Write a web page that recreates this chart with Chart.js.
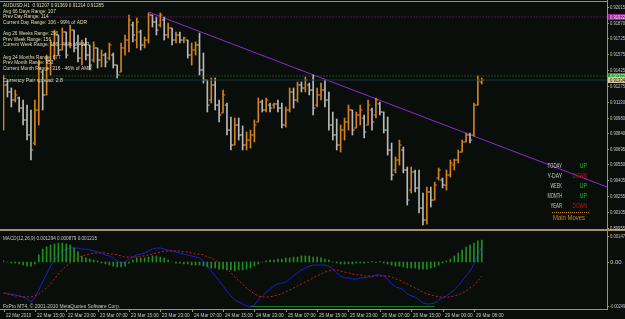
<!DOCTYPE html>
<html>
<head>
<meta charset="utf-8">
<script src="https://cdn.jsdelivr.net/npm/chart.js@4.4.1/dist/chart.umd.min.js"></script>
<style>
html, body { margin: 0; padding: 0; background: #0a0e0a; }
#wrap { position: relative; width: 625px; height: 319px; background: #0a0e0a; overflow: hidden; }
canvas { position: absolute; left: 0; }
#priceCv { top: 0; }
#macdCv { top: 231px; }
</style>
</head>
<body>
<div id="wrap">
  <canvas id="priceCv" width="625" height="231"></canvas>
  <canvas id="macdCv" width="625" height="88"></canvas>
</div>
<script>
// AUDUSD H1 bars, one entry per hour
const highs = [0.91381,0.91334,0.91260,0.91241,0.91176,0.91148,0.91101,0.91055,0.91148,0.91521,
  0.91428,0.91567,0.91707,0.91800,0.91754,0.91819,0.91782,0.91847,0.91800,0.91754,
  0.91707,0.91726,0.91661,0.91689,0.91633,0.91614,0.91586,0.91679,0.91586,0.91474,
  0.91679,0.91754,0.91940,0.91875,0.91912,0.91800,0.91735,0.91959,0.91940,0.91922,
  0.91959,0.91922,0.91866,0.91819,0.91782,0.91782,0.91735,0.91707,0.91679,0.91689,
  0.91772,0.91586,0.91334,0.91353,0.91353,0.91148,0.91241,0.91120,0.90990,0.90980,
  0.90980,0.90906,0.90850,0.90868,0.90962,0.91167,0.91148,0.91167,0.91120,0.91120,
  0.91148,0.91120,0.91083,0.91260,0.91260,0.91316,0.91316,0.91362,0.91306,0.91381,
  0.91260,0.91306,0.91334,0.91223,0.91036,0.90971,0.90915,0.90980,0.91101,0.91055,
  0.91036,0.91101,0.91008,0.91148,0.91073,0.91167,0.91129,0.91036,0.90990,0.90747,
  0.90617,0.90775,0.90710,0.90524,0.90524,0.90496,0.90496,0.90281,0.90337,0.90337,
  0.90384,0.90514,0.90421,0.90496,0.90589,0.90598,0.90682,0.90775,0.90840,0.90840,
  0.91120,0.91372,0.91353];
const lows = [0.90868,0.91176,0.91083,0.91129,0.91036,0.90915,0.90775,0.90589,0.90729,0.90915,
  0.91055,0.91195,0.91381,0.91521,0.91567,0.91614,0.91539,0.91633,0.91595,0.91502,
  0.91474,0.91521,0.91428,0.91502,0.91446,0.91456,0.91456,0.91521,0.91446,0.91353,
  0.91409,0.91567,0.91595,0.91689,0.91633,0.91614,0.91633,0.91679,0.91828,0.91754,
  0.91828,0.91707,0.91726,0.91661,0.91679,0.91679,0.91679,0.91539,0.91474,0.91567,
  0.91381,0.91306,0.91036,0.91120,0.91055,0.90943,0.91027,0.90822,0.90682,0.90729,
  0.90775,0.90682,0.90682,0.90701,0.90757,0.90943,0.91036,0.91036,0.91036,0.91073,
  0.91036,0.90887,0.90896,0.91036,0.91073,0.91129,0.91223,0.91223,0.91195,0.91008,
  0.91083,0.91148,0.91083,0.90868,0.90775,0.90682,0.90663,0.90775,0.90868,0.90822,
  0.90887,0.90915,0.90794,0.90915,0.90868,0.90980,0.91008,0.90840,0.90635,0.90402,
  0.90468,0.90542,0.90468,0.90169,0.90281,0.90291,0.90095,0.89983,0.89992,0.90151,
  0.90216,0.90402,0.90328,0.90309,0.90430,0.90496,0.90561,0.90663,0.90757,0.90747,
  0.90812,0.91101,0.91297];
const opens = [0.91055,0.91288,0.91223,0.91148,0.91167,0.91073,0.90962,0.90822,0.90747,0.91055,
  0.91409,0.91195,0.91521,0.91661,0.91754,0.91614,0.91782,0.91661,0.91800,0.91633,
  0.91539,0.91661,0.91567,0.91521,0.91633,0.91521,0.91567,0.91539,0.91567,0.91474,
  0.91409,0.91633,0.91707,0.91847,0.91707,0.91782,0.91661,0.91707,0.91940,0.91875,
  0.91847,0.91894,0.91754,0.91819,0.91707,0.91754,0.91707,0.91707,0.91567,0.91614,
  0.91661,0.91428,0.91334,0.91148,0.91288,0.91101,0.91027,0.91101,0.90868,0.90729,
  0.90915,0.90822,0.90729,0.90775,0.90822,0.90943,0.91129,0.91055,0.91101,0.91101,
  0.91111,0.91073,0.90915,0.91055,0.91223,0.91148,0.91288,0.91260,0.91288,0.91241,
  0.91101,0.91195,0.91241,0.91148,0.90915,0.90822,0.90729,0.90868,0.90943,0.91055,
  0.90887,0.91008,0.90980,0.90915,0.91055,0.91008,0.91111,0.91036,0.90868,0.90682,
  0.90496,0.90589,0.90682,0.90496,0.90309,0.90477,0.90328,0.90141,0.90030,0.90291,
  0.90216,0.90421,0.90402,0.90356,0.90449,0.90542,0.90589,0.90663,0.90757,0.90822,
  0.90822,0.91101,0.91316];
const closes = [0.91288,0.91223,0.91148,0.91195,0.91073,0.90962,0.90822,0.90682,0.91055,0.91446,
  0.91195,0.91521,0.91661,0.91754,0.91614,0.91782,0.91567,0.91800,0.91633,0.91539,
  0.91661,0.91567,0.91474,0.91633,0.91521,0.91567,0.91502,0.91661,0.91474,0.91381,
  0.91633,0.91707,0.91894,0.91754,0.91875,0.91661,0.91707,0.91940,0.91875,0.91800,
  0.91940,0.91754,0.91819,0.91707,0.91754,0.91707,0.91726,0.91567,0.91614,0.91661,
  0.91428,0.91334,0.91101,0.91288,0.91101,0.91008,0.91195,0.90868,0.90729,0.90915,
  0.90822,0.90729,0.90775,0.90822,0.90915,0.91129,0.91055,0.91148,0.91073,0.91111,
  0.91073,0.90915,0.91055,0.91223,0.91148,0.91288,0.91260,0.91334,0.91241,0.91073,
  0.91195,0.91241,0.91148,0.90915,0.90822,0.90729,0.90868,0.90943,0.91055,0.90868,
  0.91008,0.91055,0.90850,0.91101,0.90943,0.91148,0.91036,0.90868,0.90682,0.90449,
  0.90589,0.90729,0.90496,0.90216,0.90477,0.90328,0.90141,0.90030,0.90291,0.90216,
  0.90356,0.90496,0.90356,0.90449,0.90561,0.90589,0.90663,0.90757,0.90822,0.90775,
  0.91101,0.91334,0.91334];

// MACD(12,26,9) panel
const macdMain = [-0.00175,-0.00181,-0.00181,-0.00186,-0.00192,-0.00198,-0.00209,-0.00226,-0.00203,-0.00158,
  -0.00113,-0.00068,-0.00023,0.00011,0.00040,0.00062,0.00073,0.00079,0.00079,0.00079,
  0.00073,0.00073,0.00068,0.00062,0.00057,0.00051,0.00040,0.00034,0.00023,0.00006,
  -0.00006,0.00000,0.00017,0.00028,0.00040,0.00045,0.00051,0.00062,0.00073,0.00079,
  0.00079,0.00073,0.00068,0.00062,0.00057,0.00051,0.00045,0.00040,0.00034,0.00028,
  0.00023,0.00006,-0.00023,-0.00051,-0.00079,-0.00107,-0.00136,-0.00164,-0.00192,-0.00215,
  -0.00226,-0.00237,-0.00249,-0.00254,-0.00243,-0.00215,-0.00192,-0.00170,-0.00153,-0.00136,
  -0.00124,-0.00119,-0.00113,-0.00096,-0.00079,-0.00062,-0.00045,-0.00034,-0.00023,-0.00017,
  -0.00017,-0.00017,-0.00017,-0.00023,-0.00040,-0.00062,-0.00079,-0.00090,-0.00090,-0.00096,
  -0.00096,-0.00090,-0.00090,-0.00085,-0.00085,-0.00073,-0.00073,-0.00079,-0.00096,-0.00124,
  -0.00141,-0.00147,-0.00158,-0.00181,-0.00192,-0.00198,-0.00215,-0.00232,-0.00237,-0.00237,
  -0.00232,-0.00215,-0.00203,-0.00192,-0.00175,-0.00158,-0.00136,-0.00107,-0.00079,-0.00051,
  -0.00011,0.00040,0.00085];
const macdSignal = [-0.00175,-0.00181,-0.00186,-0.00192,-0.00192,-0.00198,-0.00198,-0.00198,-0.00192,-0.00181,
  -0.00164,-0.00147,-0.00124,-0.00096,-0.00068,-0.00045,-0.00023,-0.00006,0.00011,0.00023,
  0.00034,0.00040,0.00045,0.00051,0.00051,0.00051,0.00051,0.00045,0.00045,0.00040,
  0.00034,0.00028,0.00028,0.00028,0.00028,0.00034,0.00034,0.00040,0.00045,0.00051,
  0.00057,0.00062,0.00062,0.00062,0.00062,0.00062,0.00057,0.00057,0.00051,0.00045,
  0.00045,0.00040,0.00028,0.00023,0.00011,-0.00006,-0.00023,-0.00040,-0.00062,-0.00085,
  -0.00107,-0.00124,-0.00147,-0.00164,-0.00181,-0.00192,-0.00198,-0.00198,-0.00198,-0.00192,
  -0.00186,-0.00181,-0.00170,-0.00158,-0.00147,-0.00136,-0.00124,-0.00113,-0.00102,-0.00090,
  -0.00079,-0.00068,-0.00057,-0.00051,-0.00045,-0.00045,-0.00051,-0.00057,-0.00062,-0.00068,
  -0.00073,-0.00073,-0.00079,-0.00079,-0.00079,-0.00079,-0.00079,-0.00079,-0.00079,-0.00085,
  -0.00096,-0.00102,-0.00113,-0.00124,-0.00136,-0.00147,-0.00158,-0.00170,-0.00181,-0.00186,
  -0.00192,-0.00198,-0.00198,-0.00198,-0.00198,-0.00192,-0.00186,-0.00175,-0.00164,-0.00147,
  -0.00130,-0.00107,-0.00079];
const macdHist = [0.00006,0.00000,-0.00006,-0.00006,-0.00011,-0.00017,-0.00023,-0.00023,-0.00011,0.00040,
  0.00073,0.00085,0.00096,0.00102,0.00107,0.00107,0.00102,0.00096,0.00079,0.00057,
  0.00034,0.00023,0.00017,0.00011,0.00006,-0.00006,-0.00011,-0.00017,-0.00023,-0.00028,
  -0.00028,-0.00023,-0.00006,0.00011,0.00023,0.00023,0.00023,0.00028,0.00034,0.00034,
  0.00028,0.00023,0.00011,0.00000,-0.00006,-0.00006,-0.00011,-0.00011,-0.00017,-0.00017,
  -0.00017,-0.00023,-0.00028,-0.00034,-0.00034,-0.00040,-0.00040,-0.00045,-0.00045,-0.00051,
  -0.00045,-0.00045,-0.00040,-0.00034,-0.00023,-0.00011,0.00000,0.00006,0.00011,0.00011,
  0.00017,0.00017,0.00023,0.00023,0.00028,0.00028,0.00034,0.00034,0.00034,0.00028,
  0.00028,0.00023,0.00017,0.00011,0.00000,-0.00006,-0.00011,-0.00011,-0.00011,-0.00011,
  -0.00006,-0.00006,-0.00006,-0.00002,0.00002,-0.00002,0.00002,-0.00006,-0.00011,-0.00017,
  -0.00023,-0.00023,-0.00028,-0.00034,-0.00034,-0.00034,-0.00040,-0.00040,-0.00040,-0.00034,
  -0.00028,-0.00017,-0.00006,0.00006,0.00017,0.00034,0.00051,0.00068,0.00085,0.00096,
  0.00107,0.00119,0.00124];
const baseBars = [63, 110];
const baseVals = [-0.00252, -0.00252];

// axes
const priceTicks = [0.92015,0.91870,0.91725,0.91575,0.91425,0.91275,0.91130,0.90980,0.90840,0.90695,0.90550,0.90405,0.90255,0.90105,0.89955];
const macdTicks = [0.00147, 0, -0.00249];
const macdTickLabels = ['0.00147', '0.00', '-0.00249'];
const timeBars = [0,8,16,24,32,40,48,56,64,72,80,88,96,104,112,120];
const timeLabels = ['22 Mar 2010','22 Mar 15:00','22 Mar 23:00','23 Mar 07:00','23 Mar 15:00','23 Mar 23:00',
  '24 Mar 07:00','24 Mar 15:00','24 Mar 23:00','25 Mar 07:00','25 Mar 15:00','25 Mar 23:00',
  '26 Mar 07:00','26 Mar 15:00','29 Mar 00:00','29 Mar 08:00'];

// drawn objects
const trendBars = [37, 154];
const trendPrices = [0.91968, 0.90337];
const dayHighLevel = 0.91922;
const askLevel = 0.91372;
const bidLevel = 0.91334;

const infoLines = ['AUDUSD,H1  0.91207 0.91369 0.91214 0.91285',
  'Avg 66 Days Range: 107', 'Prev Day Range: 114', 'Current Day Range: 106 - 99% of ADR',
  'Avg 26 Weeks Range: 296', 'Prev Week Range: 156', 'Current Week Range: 186 - 46% of AWR',
  'Avg 24 Months Range: 677', 'Prev Month Range: 953', 'Current Month Range: 316 - 46% of AMR',
  'Currency Pair spread: 2.8'];
const moveNames = ['TODAY', 'Y-DAY', 'WEEK', 'MONTH', 'YEAR'];
const moveStates = ['UP', 'DOWN', 'UP', 'UP', 'DOWN'];

const FRAME = '#a89060';
const TXT = '#c8c8c8';
const UPC = '#d2821e';
const DNC = '#b9b9b9';
const FONT = '7px "Liberation Sans", "DejaVu Sans", sans-serif';
const SMALL = '6px "Liberation Sans", "DejaVu Sans", sans-serif';

const barColors = closes.map((c, i) => c >= opens[i] ? UPC : DNC);

const mainOverlay = {
  id: 'mainOverlay',
  afterDraw(chart) {
    const ctx = chart.ctx;
    const y = chart.scales.y;
    ctx.save();
    ctx.fillStyle = FRAME;
    ctx.fillRect(0, 1, 608, 1);
    ctx.fillRect(607, 0, 1, 231);
    ctx.fillRect(0, 229, 625, 2);

    ctx.font = SMALL;
    ctx.textBaseline = 'middle';
    ctx.textAlign = 'left';
    priceTicks.forEach(v => {
      const py = Math.round(y.getPixelForValue(v));
      ctx.fillStyle = FRAME;
      ctx.fillRect(607, py, 2, 1);
      ctx.fillStyle = TXT;
      ctx.fillText(v.toFixed(5), 610, py + 0.5, 15);
    });

    // price boxes on the axis
    const box = (v, bg, fg) => {
      const py = Math.round(y.getPixelForValue(v));
      ctx.fillStyle = bg;
      ctx.fillRect(608, py - 3, 17, 6);
      ctx.fillStyle = fg;
      ctx.fillText(v.toFixed(5), 610, py + 0.5, 15);
    };
    box(dayHighLevel, '#a01ea0', '#f0f0f0');
    box(askLevel, '#1ea01e', '#f0f0f0');
    box(bidLevel, '#d8c898', '#202020');

    // info block
    const infoY = [5, 11, 16, 22, 33, 39, 44, 57, 62, 68, 80];
    ctx.fillStyle = '#e4dcb8';
    infoLines.forEach((t, k) => ctx.fillText(t, 3, infoY[k], t.length * 2.4));

    // main moves panel
    ctx.font = FONT;
    moveNames.forEach((n, k) => {
      const py = 166 + k * 10;
      ctx.textAlign = 'right';
      ctx.fillStyle = TXT;
      ctx.fillText(n, 562, py, n.length * 2.9);
      ctx.fillStyle = moveStates[k] === 'UP' ? '#1ec81e' : '#c81414';
      ctx.fillText(moveStates[k], 587, py, moveStates[k].length * 3.6);
    });
    ctx.fillStyle = UPC;
    for (let px = 552; px < 589; px += 2) ctx.fillRect(px, 212, 1, 1);
    ctx.textAlign = 'center';
    ctx.fillText('Main Moves', 569, 218, 32);
    ctx.restore();
  }
};

const macdOverlay = {
  id: 'macdOverlay',
  afterDraw(chart) {
    const ctx = chart.ctx;
    const x = chart.scales.x;
    const y = chart.scales.y;
    ctx.save();
    ctx.fillStyle = FRAME;
    ctx.fillRect(607, 0, 1, 79);
    ctx.fillRect(0, 78, 608, 1);
    ctx.font = SMALL;
    ctx.textBaseline = 'middle';
    ctx.textAlign = 'left';
    macdTicks.forEach((v, k) => {
      const py = Math.round(y.getPixelForValue(v));
      ctx.fillStyle = FRAME;
      ctx.fillRect(607, py, 2, 1);
      ctx.fillStyle = TXT;
      ctx.fillText(macdTickLabels[k], 610, py + 0.5, 15);
    });
    ctx.fillStyle = TXT;
    ctx.fillText('MACD(12,26,9) 0.001294 0.000879 0.001215', 3, 7, 94);
    ctx.fillText('FxPro MT4, \u00a9 2001-2010 MetaQuotes Software Corp.', 3, 75, 117);
    timeBars.forEach((b, k) => {
      const px = Math.round(x.getPixelForValue(b));
      ctx.fillStyle = FRAME;
      ctx.fillRect(px, 79, 1, 2);
      ctx.fillStyle = TXT;
      ctx.fillText(timeLabels[k], px + 2, 84, timeLabels[k].length * 2.3);
    });
    ctx.restore();
  }
};

const xRange = { type: 'linear', display: false, min: -0.13, max: 153.95, offset: false };

const priceChart = new Chart(document.getElementById('priceCv'), {
  type: 'bar',
  data: {
    datasets: [
      {
        type: 'line',
        data: [{ x: -1, y: dayHighLevel }, { x: 160, y: dayHighLevel }],
        borderColor: '#8c1e8c', borderWidth: 1, borderDash: [1, 2], pointRadius: 0
      },
      {
        type: 'line',
        data: [{ x: -1, y: askLevel }, { x: 160, y: askLevel }],
        borderColor: '#1e8c1e', borderWidth: 1, borderDash: [1, 2], pointRadius: 0
      },
      {
        type: 'line',
        data: [{ x: -1, y: bidLevel }, { x: 160, y: bidLevel }],
        borderColor: '#1c3440', borderWidth: 1, pointRadius: 0
      },
      {
        type: 'bar',
        data: highs.map((h, i) => ({ x: i, y: [lows[i], h] })),
        backgroundColor: barColors,
        barThickness: 1,
        grouped: false
      },
      {
        type: 'scatter',
        data: opens.map((v, i) => ({ x: i - 0.32, y: v })),
        pointStyle: 'line', pointRadius: 1, pointHoverRadius: 1,
        pointBorderWidth: 1, pointBorderColor: barColors, pointBackgroundColor: barColors
      },
      {
        type: 'scatter',
        data: closes.map((v, i) => ({ x: i + 0.32, y: v })),
        pointStyle: 'line', pointRadius: 1, pointHoverRadius: 1,
        pointBorderWidth: 1, pointBorderColor: barColors, pointBackgroundColor: barColors
      },
      {
        type: 'line',
        data: trendBars.map((b, k) => ({ x: b, y: trendPrices[k] })),
        borderColor: '#8a2ad2', borderWidth: 1, pointRadius: 0
      }
    ]
  },
  options: {
    responsive: false,
    animation: false,
    devicePixelRatio: 1,
    events: [],
    layout: { padding: { left: 3, right: 18, top: 3, bottom: 2 } },
    plugins: { legend: { display: false }, tooltip: { enabled: false } },
    scales: {
      x: xRange,
      y: { display: false, min: 0.89946, max: 0.92052 }
    }
  },
  plugins: [mainOverlay]
});

const macdChart = new Chart(document.getElementById('macdCv'), {
  type: 'bar',
  data: {
    datasets: [
      {
        type: 'bar',
        data: macdHist.map((v, i) => ({ x: i, y: v })),
        backgroundColor: '#1f8f1f',
        barThickness: 1,
        grouped: false
      },
      {
        type: 'line',
        data: baseBars.map((b, k) => ({ x: b, y: baseVals[k] })),
        borderColor: '#1e7a1e', borderWidth: 1, pointRadius: 0
      },
      {
        type: 'line',
        data: macdSignal.map((v, i) => ({ x: i, y: v })),
        borderColor: '#c81e1e', borderWidth: 1, borderDash: [2, 2], pointRadius: 0
      },
      {
        type: 'line',
        data: macdMain.map((v, i) => ({ x: i, y: v })),
        borderColor: '#1e1ed2', borderWidth: 1, pointRadius: 0
      }
    ]
  },
  options: {
    responsive: false,
    animation: false,
    devicePixelRatio: 1,
    events: [],
    layout: { padding: { left: 3, right: 18, top: 2, bottom: 10 } },
    plugins: { legend: { display: false }, tooltip: { enabled: false } },
    scales: {
      x: xRange,
      y: { display: false, min: -0.00266, max: 0.00164 }
    }
  },
  plugins: [macdOverlay]
});
</script>
</body>
</html>
